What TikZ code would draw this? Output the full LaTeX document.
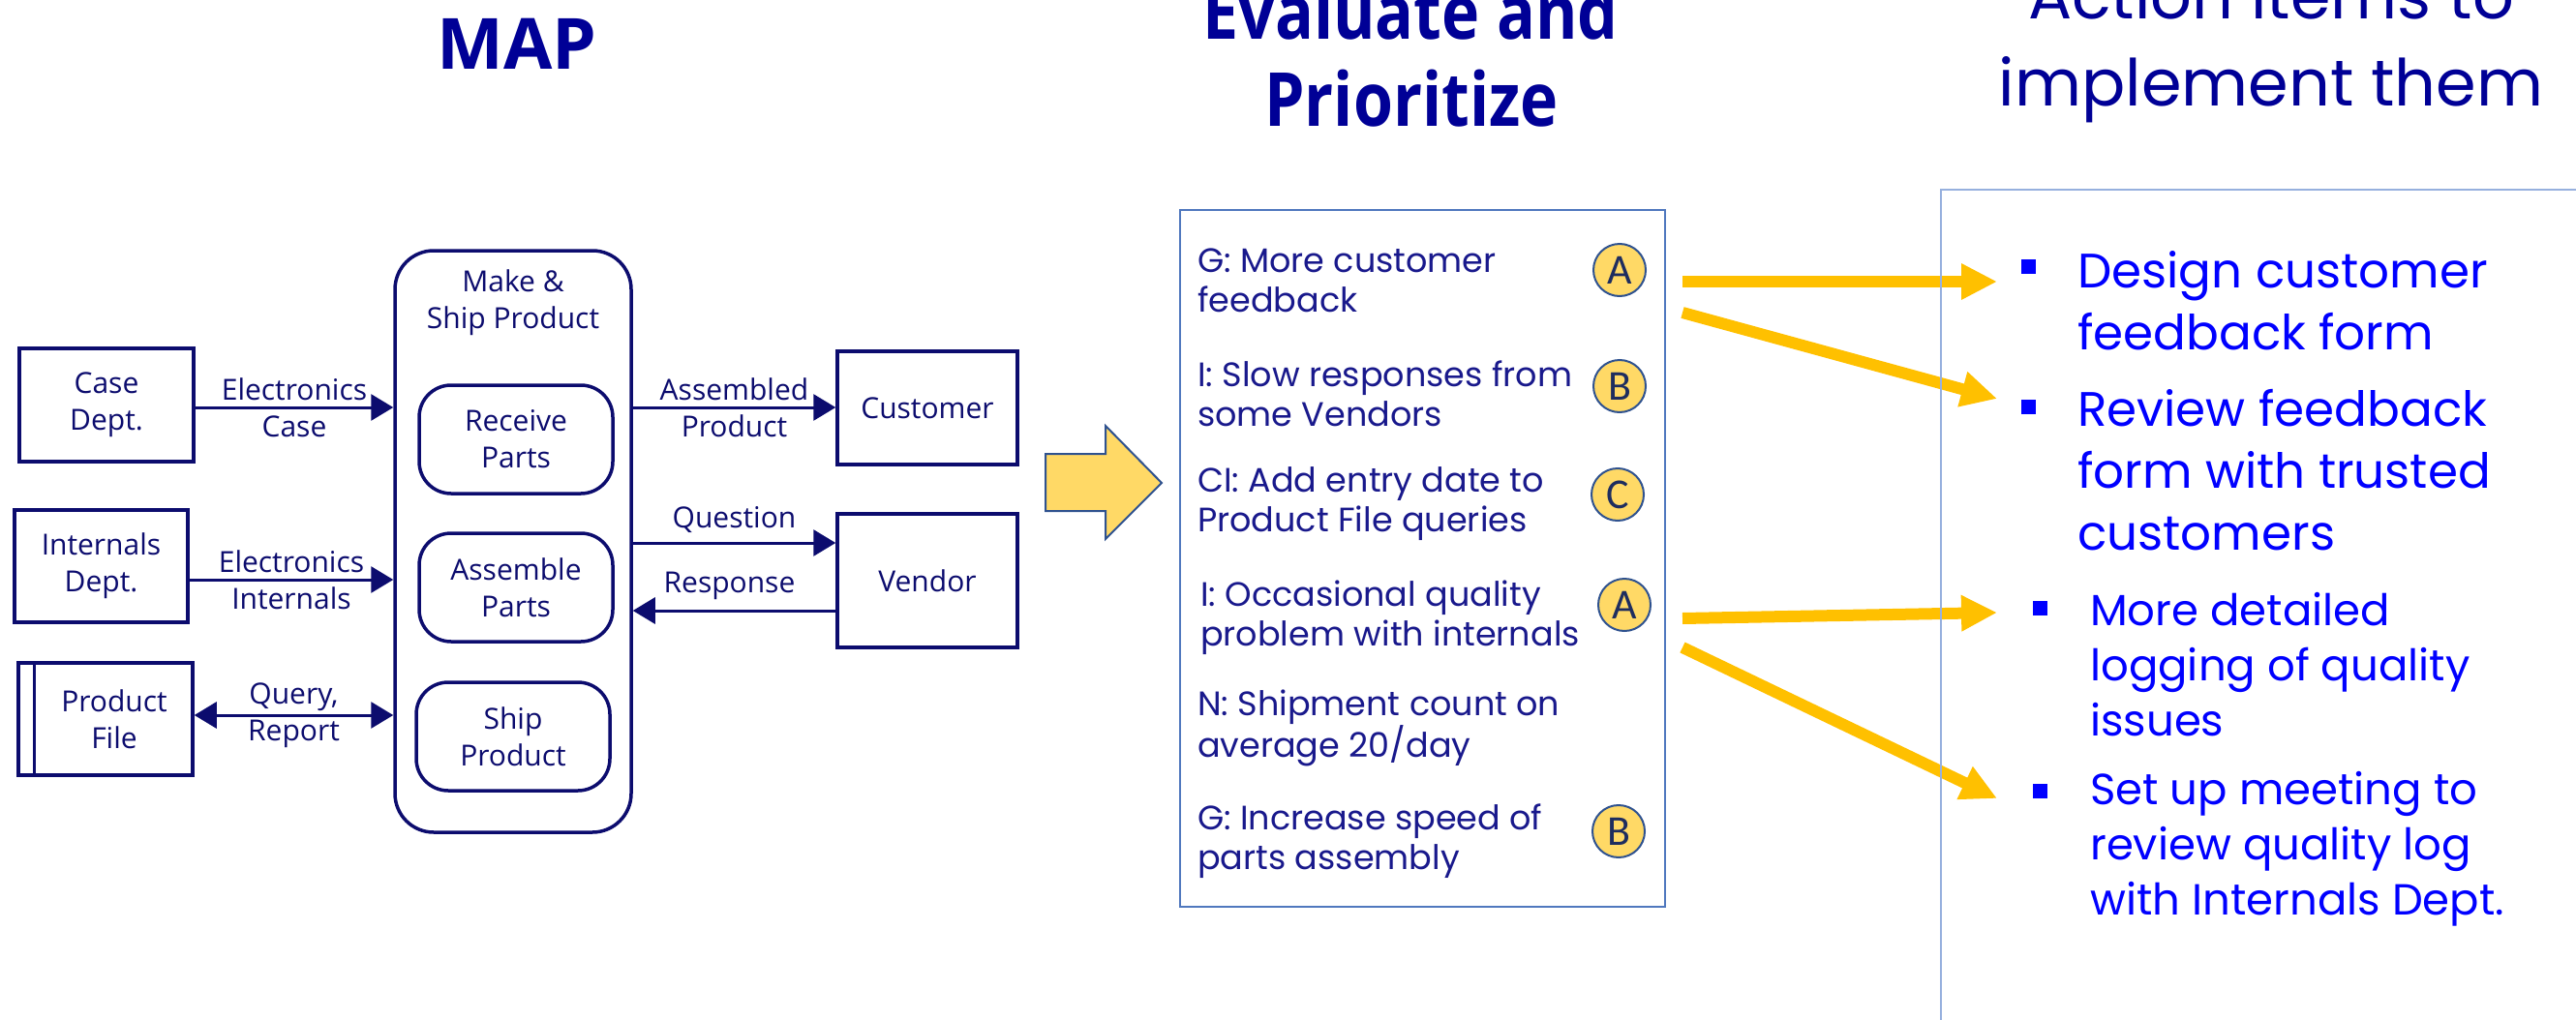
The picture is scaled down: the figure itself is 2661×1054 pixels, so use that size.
\documentclass[tikz,border=0pt]{standalone}
\usepackage{fontspec}
\setmainfont{Open Sans}
\newfontfamily\diagfont{Open Sans}
\newfontfamily\titlefont{Open Sans}
\newfontfamily\evaltitlefont[FakeStretch=0.86]{Open Sans}
\newfontfamily\comicfont{Poppins}
\newfontfamily\circfont{Carlito}
\usetikzlibrary{arrows.meta}
\definecolor{navy}{RGB}{12,12,110}
\definecolor{titleblue}{RGB}{0,0,150}
\definecolor{itemblue}{RGB}{25,25,140}
\definecolor{actblue}{RGB}{0,0,255}
\definecolor{gold}{RGB}{255,192,0}
\definecolor{lightgold}{RGB}{255,217,102}
\definecolor{edgeblue}{RGB}{47,82,143}
\definecolor{boxblue}{RGB}{80,120,190}
\definecolor{panelblue}{RGB}{150,176,222}
\definecolor{circtext}{RGB}{30,45,95}
\tikzset{
  ent/.style={draw=navy, line width=3.5pt, text=navy, align=center, inner sep=0pt,
    font=\diagfont\fontsize{30}{38}\selectfont},
  proc/.style={ent, rounded corners=33pt},
  lbl/.style={text=navy, align=center, inner sep=0pt, font=\diagfont\fontsize{30}{38}\selectfont},
  flow/.style={navy, line width=3pt, -{Triangle[length=23pt,width=27pt]}},
  biflow/.style={navy, line width=3pt, {Triangle[length=23pt,width=27pt]}-{Triangle[length=23pt,width=27pt]}},
  ttl/.style={text=titleblue, inner sep=0pt, font=\titlefont\bfseries\fontsize{73}{89}\selectfont},
  ettl/.style={text=titleblue, inner sep=0pt, font=\evaltitlefont\bfseries\fontsize{77}{89}\selectfont},
  cttl/.style={text=titleblue, inner sep=0pt, font=\comicfont\fontsize{67}{90}\selectfont},
  item/.style={text=itemblue, align=left, inner sep=0pt, anchor=west, font=\comicfont\fontsize{35}{41}\selectfont},
  circ/.style={circle, draw=edgeblue, line width=2pt, fill=lightgold, minimum size=54pt, inner sep=0pt,
    text=circtext, font=\circfont\fontsize{44}{44}\selectfont},
  goldarrow/.style={gold, line width=12pt, -{Triangle[length=37pt,width=35pt]}},
  bullet/.style={fill=actblue, minimum size=15pt, inner sep=0pt},
  actbig/.style={text=actblue, align=left, inner sep=0pt, anchor=west, font=\comicfont\fontsize{50}{64}\selectfont},
  actsmall/.style={text=actblue, align=left, inner sep=0pt, anchor=west, font=\comicfont\fontsize{45}{57}\selectfont},
}
\begin{document}
\begin{tikzpicture}[x=1pt,y=-1pt]
\fill[white] (0,0) rectangle (2661,1054);
\useasboundingbox (0,0) rectangle (2661,1054);

% titles
\node[ttl, anchor=base] (tmap) at (534,72) {MAP};
\node[ettl, anchor=base] (teval1) at (1457,41) {Evaluate and};
\node[ettl, anchor=base] (teval2) at (1458,131) {Prioritize};
\node[cttl, anchor=base] (tact1) at (2346,20) {Action Items to};
\node[cttl, anchor=base] (tact2) at (2346,110) {implement them};

% left diagram
\node[ent, minimum width=180pt, minimum height=117pt] (case) at (110,418.5) {Case\\Dept.};
\node[ent, minimum width=179pt, minimum height=116pt] (internals) at (104.5,585) {Internals\\Dept.};
\node[ent, minimum width=180pt, minimum height=116pt] (pfile) at (109,743) {\hspace*{18pt}Product\\\hspace*{18pt}File};
\draw[navy, line width=3.5pt] ([xshift=18pt]pfile.north west) -- ([xshift=18pt]pfile.south west);

\node[draw=navy, line width=3.5pt, rounded corners=40pt, minimum width=244pt, minimum height=601pt] (make) at (530,559.5) {};
\node[lbl] (maketitle) at (530,313) {Make \&\\Ship Product};
\node[proc, minimum width=200pt, minimum height=112pt] (receive) at (533,454) {Receive\\Parts};
\node[proc, minimum width=200pt, minimum height=112pt] (assemble) at (533,607) {Assemble\\Parts};
\node[proc, minimum width=200pt, minimum height=112pt] (ship) at (530,761) {Ship\\Product};

\node[ent, minimum width=186pt, minimum height=117pt] (customer) at (958,421.5) {Customer};
\node[ent, minimum width=186pt, minimum height=138pt] (vendor) at (958,600) {Vendor};

\draw[flow] (case.east |- 0,421) -- (make.west |- 0,421) node[midway, lbl] {Electronics\\Case};
\draw[flow] (internals.east |- 0,599) -- (make.west |- 0,599) node[midway, lbl] {Electronics\\Internals};
\draw[biflow] (pfile.east |- 0,739) -- (make.west |- 0,739) node[midway, lbl] {Query,\\Report};
\draw[flow] (make.east |- 0,421) -- (customer.west |- 0,421) node[midway, lbl] {Assembled\\Product};
\draw[flow] (make.east |- 0,561) -- (vendor.west |- 0,561) node[midway, lbl, yshift=24pt] {Question};
\draw[flow] (vendor.west |- 0,631) -- (make.east |- 0,631) node[midway, lbl, yshift=26pt, xshift=-5pt] {Response};

% big arrow
\draw[fill=lightgold, draw=edgeblue, line width=2pt] (1080,469) -- (1142,469) -- (1142,440) -- (1200,499) -- (1142,557) -- (1142,528) -- (1080,528) -- cycle;

% evaluate box
\node[draw=boxblue, line width=2.5pt, minimum width=501pt, minimum height=720pt] (evalbox) at (1469.5,577) {};
\node[item] (i1) at (1237,290) {G: More customer\\feedback};
\node[item] (i2) at (1237,407) {I: Slow responses from\\some Vendors};
\node[item] (i3) at (1237,520.5) {CI: Add entry date to\\Product File queries};
\node[item] (i4) at (1240,638) {I: Occasional quality\\problem with internals};
\node[item] (i5) at (1237,752) {N: Shipment count on\\average 20/day};
\node[item] (i6) at (1237,869) {G: Increase speed of\\parts assembly};
\node[circ] (c1) at (1673,279) {A};
\node[circ] (c2) at (1673,399) {B};
\node[circ] (c3) at (1671,511) {C};
\node[circ] (c4) at (1678,625) {A};
\node[circ] (c5) at (1672,859) {B};

% action items
\node[bullet] (b1) at (2095,275) {};
\node[bullet] (b2) at (2095,420) {};
\node[bullet] (b3) at (2107,628) {};
\node[bullet] (b4) at (2107,817) {};
\node[actbig] (a1) at (2146,310.5) {Design customer\\feedback form};
\node[actbig] (a2) at (2146,485.5) {Review feedback\\form with trusted\\customers};
\node[actsmall] (a3) at (2159,687) {More detailed\\logging of quality\\issues};
\node[actsmall] (a4) at (2159,877) {Set up meeting to\\review quality log\\with Internals Dept.};

% gold arrows
\coordinate (s1) at (1738,291); \coordinate (t1) at (2063,291);
\coordinate (s2) at (1738,323); \coordinate (t2) at (2063,412);
\coordinate (s3) at (1738,639); \coordinate (t3) at (2063,633);
\coordinate (s4) at (1738,669); \coordinate (t4) at (2063,825);
\draw[goldarrow] (s1) -- (t1);
\draw[goldarrow] (s2) -- (t2);
\draw[goldarrow] (s3) -- (t3);
\draw[goldarrow] (s4) -- (t4);

% action panel (its border lies over the arrows)
\node[draw=panelblue, line width=2pt, minimum width=900pt, minimum height=1000pt, anchor=north west] (panel) at (2004,195) {};
\end{tikzpicture}
\end{document}
